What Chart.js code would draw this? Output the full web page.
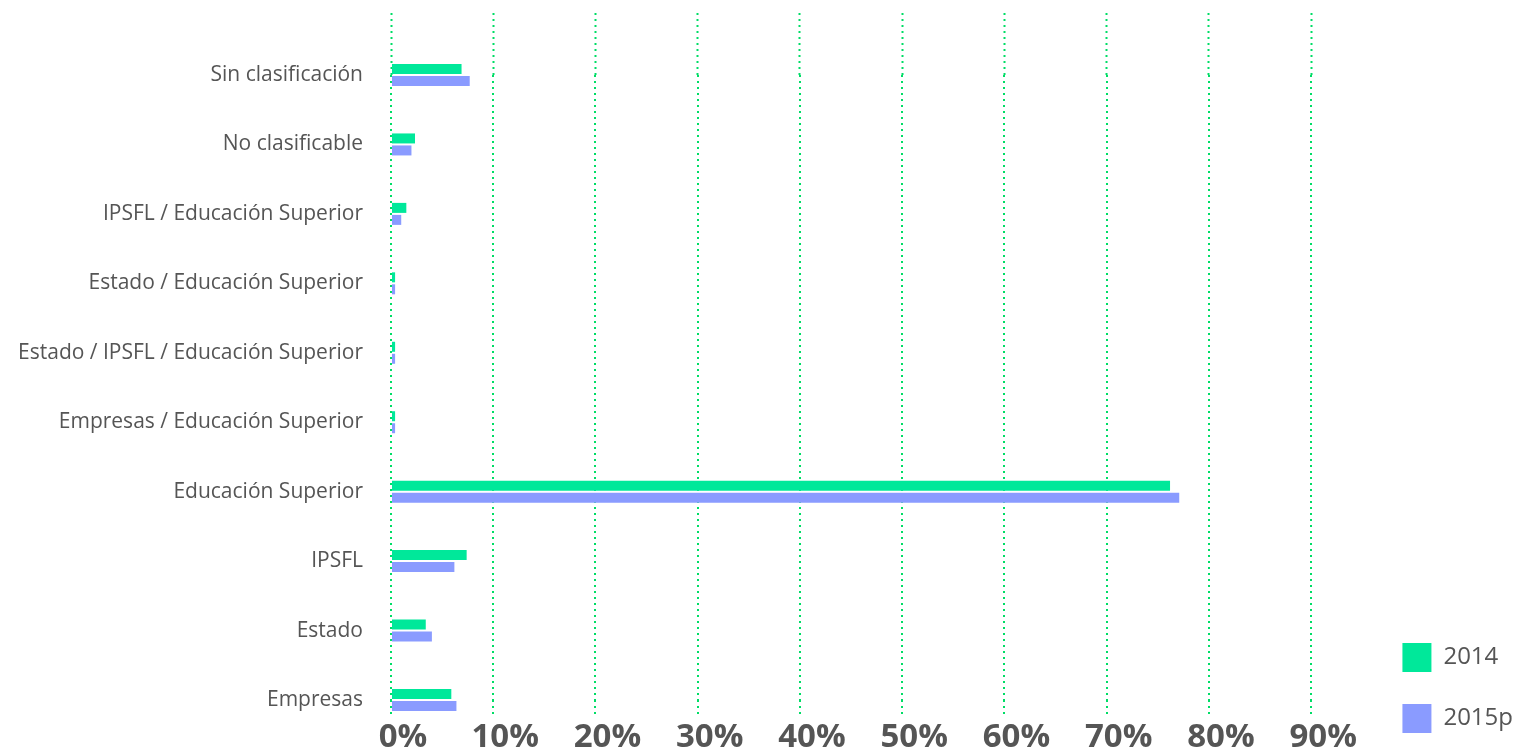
<!DOCTYPE html>
<html>
<head>
<meta charset="utf-8">
<script src="https://cdn.jsdelivr.net/npm/chart.js@4/dist/chart.umd.min.js"></script>
<style>
  html, body { margin: 0; padding: 0; background: #fff; }
  #wrap { width: 1523px; height: 755px; position: relative; }
</style>
</head>
<body>
<div id="wrap"><canvas id="chart"></canvas></div>
<script>
const categories = [
    "Sin clasificación",
    "No clasificable",
    "IPSFL / Educación Superior",
    "Estado / Educación Superior",
    "Estado / IPSFL / Educación Superior",
    "Empresas / Educación Superior",
    "Educación Superior",
    "IPSFL",
    "Estado",
    "Empresas"
];
const values2014 = [6.9, 2.35, 1.5, 0.4, 0.4, 0.4, 76.2, 7.4, 3.4, 5.9];
const values2015p = [7.7, 2.0, 1.0, 0.4, 0.4, 0.4, 77.1, 6.2, 4.0, 6.4];
const seriesNames = ["2014", "2015p"];

const GREEN = "#00E89A";
const BLUE = "#8A9BFF";
const GRID = "#00DD66";
const TEXT = "#555555";

const xRange = { min: 0, max: 95.8 };

new Chart(document.getElementById("chart"), {
    type: "bar",
    data: {
        labels: categories,
        datasets: [
            { label: seriesNames[0], data: values2014, backgroundColor: GREEN, borderWidth: 0, clip: false },
            { label: seriesNames[1], data: values2015p, backgroundColor: BLUE, borderWidth: 0, clip: false }
        ]
    },
    options: {
        indexAxis: "y",
        responsive: true,
        maintainAspectRatio: false,
        animation: false,
        categoryPercentage: 0.3456,
        barPercentage: 0.833,
        layout: { padding: { top: 13, right: 0, bottom: -10, left: 0 } },
        plugins: {
            tooltip: { enabled: false },
            legend: {
                position: "right",
                align: "end",
                labels: {
                    boxWidth: 29,
                    boxHeight: 29,
                    padding: 32,
                    color: TEXT,
                    font: { family: "Open Sans", size: 24 }
                }
            }
        },
        scales: {
            y: {
                offset: false,
                grid: { display: false },
                border: { display: false },
                afterFit: s => { s.width = 391; },
                ticks: {
                    padding: 20,
                    color: TEXT,
                    font: { family: "Open Sans", size: 21 }
                }
            },
            x: {
                position: "bottom",
                min: xRange.min,
                max: xRange.max,
                afterFit: s => { s.height = 65; },
                grid: {
                    color: GRID,
                    lineWidth: 2,
                    tickLength: 18,
                    tickWidth: 2,
                    tickColor: GRID,
                    tickBorderDash: [2, 4]
                },
                border: { display: false, dash: [2, 4] },
                ticks: {
                    stepSize: 10,
                    includeBounds: false,
                    padding: 0,
                    labelOffset: 12,
                    color: TEXT,
                    font: { family: "Open Sans", size: 33, weight: "bold" },
                    callback: v => v + "%"
                }
            },
            x2: {
                position: "top",
                axis: "x",
                min: xRange.min,
                max: xRange.max,
                grid: {
                    drawOnChartArea: false,
                    tickLength: 62,
                    tickWidth: 2,
                    tickColor: GRID,
                    tickBorderDash: [2, 4]
                },
                border: { display: false },
                ticks: { display: false, stepSize: 10, includeBounds: false }
            }
        }
    }
});
</script>
</body>
</html>
